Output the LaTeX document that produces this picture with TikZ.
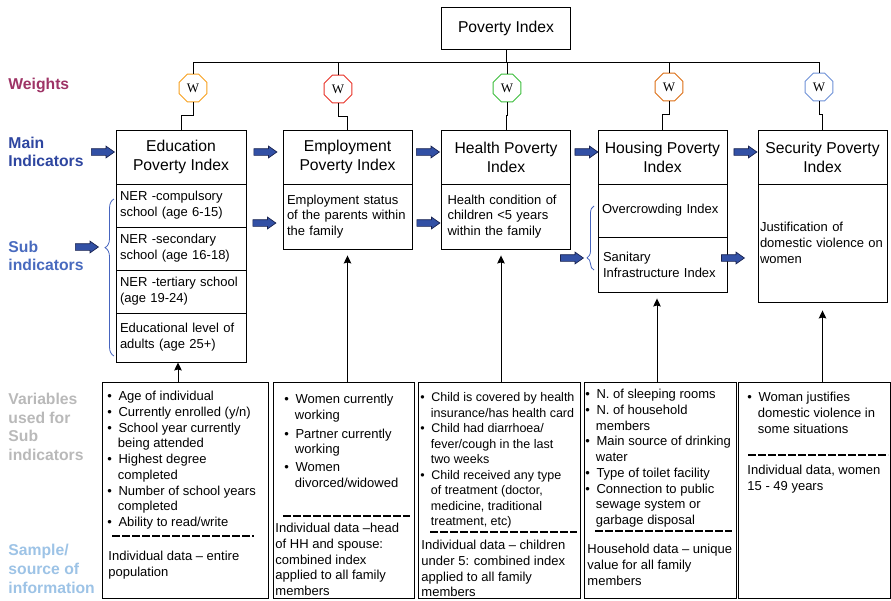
\documentclass[tikz,border=0pt]{standalone}
\usepackage{fontspec}
\setmainfont{Liberation Sans}
\newfontfamily\wfont{Liberation Serif}
\usetikzlibrary{arrows.meta, shapes.geometric, shapes.arrows, positioning}
\usetikzlibrary{decorations.pathreplacing}
\tikzset{>={Stealth[length=8pt, width=7.5pt, inset=1pt]}}
\definecolor{wgtc}{RGB}{158,52,102}
\definecolor{mainc}{RGB}{46,70,160}
\definecolor{subc}{RGB}{72,106,190}
\definecolor{varc}{RGB}{185,185,185}
\definecolor{srcc}{RGB}{157,195,230}
\definecolor{arrc}{RGB}{50,80,165}
\definecolor{arrdk}{RGB}{25,35,80}
\definecolor{bracec}{RGB}{70,100,190}
\definecolor{worange}{RGB}{247,160,30}
\definecolor{wred}{RGB}{232,50,40}
\definecolor{wgreen}{RGB}{60,190,60}
\definecolor{wdkor}{RGB}{220,110,20}
\definecolor{wblue}{RGB}{110,145,215}
\newcommand{\bt}{\textbullet\hspace{6.5pt}}
\newcommand{\ct}{\hspace*{10.5pt}}
\tikzset{
	idxbox/.style={draw, minimum width=129pt, minimum height=54pt, inner sep=0pt, align=center, font=\fontsize{15.7}{19}\selectfont},
	subbox/.style={draw, minimum width=129pt, text width=121pt, inner xsep=4pt, inner ysep=0pt, align=left, font=\fontsize{13}{15.8}\selectfont},
	varbox/.style={draw, minimum height=216pt, inner sep=0pt},
	lsttxt/.style={anchor=north west, inner sep=0pt, align=left, font=\fontsize{13}{15.7}\selectfont},
	wgt/.style={draw=#1, regular polygon, regular polygon sides=8, minimum size=30pt, inner sep=0pt, fill=white, font=\wfont\fontsize{13}{13}\selectfont},
	blkarr/.style={single arrow, draw=arrdk, fill=arrc, line width=0.7pt, minimum height=23pt, minimum width=0pt, inner xsep=0pt, inner ysep=3pt, single arrow head extend=2.5pt, single arrow tip angle=70},
	lbl/.style={anchor=west, inner sep=0pt, align=left, font=\bfseries\fontsize{15.7}{18.7}\selectfont},
	seprule/.style={line width=1.6pt, dash pattern=on 8pt off 2pt}
}

\begin{document}
\begin{tikzpicture}[x=1pt, y=-1pt, line width=0.9pt]
	\useasboundingbox (0,0) rectangle (891,600);
	\node [lbl, text=wgtc] (lweights) at (8,85) {Weights};
	\node [lbl, text=mainc] (lmain) at (8,152) {Main\\Indicators};
	\node [lbl, text=subc] (lsub) at (8,256) {Sub\\indicators};
	\node [lbl, text=varc] (lvar) at (8,427) {Variables\\used for\\Sub\\indicators};
	\node [lbl, text=srcc] (lsrc) at (8,569) {Sample/\\source of\\information};

	\node [draw, minimum width=129pt, minimum height=42pt, font=\fontsize{15.7}{19}\selectfont] (pov) at (506,28) {Poverty Index};

	\node [idxbox, minimum width=130pt] (edu) at (181,157) {Education\\Poverty Index};
	\node [idxbox] (emp) at (347.5,157) {Employment\\Poverty Index};
	\node [idxbox] (hea) at (506,157) {Health Poverty\\Index};
	\node [idxbox] (hou) at (662.5,157) {Housing Poverty\\Index};
	\node [idxbox] (sec) at (822.5,157) {Security Poverty\\Index};

	\node [subbox, text width=122pt, minimum height=43pt] (edu1) at (181,205.5) {NER -compulsory\\school (age 6-15)};
	\node [subbox, text width=122pt, minimum height=43pt] (edu2) at (181,248.5) {NER -secondary\\school (age 16-18)};
	\node [subbox, text width=122pt, minimum height=43pt] (edu3) at (181,291.5) {NER -tertiary school\\(age 19-24)};
	\node [subbox, text width=122pt, minimum height=49pt] (edu4) at (181,337.5) {Educational level of\\adults (age 25+)};
	\node [subbox, minimum height=65pt] (emp1) at (347.5,216.5) {Employment status\\of the parents within\\the family};
	\node [subbox, text width=117pt, inner xsep=6pt, minimum height=65pt] (hea1) at (506,216.5) {Health condition of\\children <5 years\\within the family};
	\node [subbox, minimum height=53pt] (hou1) at (662.5,210.5) {Overcrowding Index};
	\node [subbox, text width=119pt, inner xsep=5pt, minimum height=55pt] (hou2) at (662.5,264.5) {Sanitary\\Infrastructure Index};
	\node [subbox, text width=125pt, inner xsep=2pt, minimum height=118pt] (sec1) at (822.5,243) {Justification of\\domestic violence on\\women};

	\node [wgt=worange] (w1) at (193,88) {W};
	\node [wgt=wred] (w2) at (338,89) {W};
	\node [wgt=wgreen] (w3) at (507,88) {W};
	\node [wgt=wdkor] (w4) at (669,87) {W};
	\node [wgt=wblue] (w5) at (819,87) {W};
	\coordinate (busl) at (193,62);
	\coordinate (busr) at (819,62);
	\draw (pov.south) -- (pov.south |- busl);
	\draw (busl) -- (busr);
	\foreach \w/\m in {w1/edu, w2/emp, w3/hea, w4/hou, w5/sec} {
		\draw (\w.north) -- (\w.north |- busl);
		\draw (\w.south) -- ++(0,13) -| (\m.north);
	}

	\node [blkarr] (am1) at (100.5,152) {};
	\node [blkarr] (am2) at (263,152) {};
	\node [blkarr] (am3) at (425.5,152) {};
	\node [blkarr] (am4) at (584,152) {};
	\node [blkarr] (am5) at (743,152) {};
	\node [blkarr] (as1) at (84.5,247) {};
	\node [blkarr] (as2) at (262,223) {};
	\node [blkarr] (as3) at (426,223) {};
	\node [blkarr] (as4) at (569.5,258) {};
	\node [blkarr] (as5) at (730.5,258) {};

	\draw [bracec, line width=0.8pt, decorate, decoration={brace, amplitude=9pt, aspect=0.69}] (114,356) -- (114,199);
	\draw [bracec, line width=0.8pt, decorate, decoration={brace, amplitude=7pt, aspect=0.19}] (594,270) -- (594,206);

	\node [varbox, minimum width=166pt] (varedu) at (185,490) {};
	\node [varbox, minimum width=141pt] (varemp) at (343.5,490) {};
	\node [varbox, minimum width=162pt] (varhea) at (499,490) {};
	\node [varbox, minimum width=152pt] (varhou) at (660,490) {};
	\node [varbox, minimum width=152pt] (varsec) at (814,490) {};

	\draw [->] (varedu.north -| 178,0) -- (edu4.south -| 178,0);
	\draw [->, shorten >=6pt] (varemp.north -| emp1.south) -- (emp1.south);
	\draw [->, shorten >=6pt] (varhea.north -| 501,0) -- (hea1.south -| 501,0);
	\draw [->, shorten >=6pt] (varhou.north -| 657,0) -- (hou2.south -| 657,0);
	\draw [->, shorten >=8pt] (varsec.north -| sec1.south) -- (sec1.south);

	\node [lsttxt] (lstedu) at (107,391) {\bt Age of individual\\\bt Currently enrolled (y/n)\\\bt School year currently\\\ct being attended\\\bt Highest degree\\\ct completed\\\bt Number of school years\\\ct completed\\\bt Ability to read/write};
	\node [lsttxt] (lstemp) at (284,394) {\bt Women currently\\\ct working\\[3pt]\bt Partner currently\\\ct working\\[2pt]\bt Women\\\ct divorced/widowed};
	\node [lsttxt, font=\fontsize{12.5}{15.5}\selectfont] (lsthea) at (420,392) {\bt Child is covered by health\\\ct insurance/has health card\\\bt Child had diarrhoea/\\\ct fever/cough in the last\\\ct two weeks\\\bt Child received any type\\\ct of treatment (doctor,\\\ct medicine, traditional\\\ct treatment, etc)};
	\node [lsttxt] (lsthou) at (585,389) {\bt N. of sleeping rooms\\\bt N. of household\\\ct members\\\bt Main source of drinking\\\ct water\\\bt Type of toilet facility\\\bt Connection to public\\\ct sewage system or\\\ct garbage disposal};
	\node [lsttxt] (lstsec) at (747,392) {\bt Woman justifies\\\ct domestic violence in\\\ct some situations};

	\draw [seprule] (112,536) -- (254,536);
	\draw [seprule] (283,516) -- (410,516);
	\draw [seprule] (430,532) -- (577,532);
	\draw [seprule] (595,531) -- (732,531);
	\draw [seprule] (748,455) -- (888,455);

	\node [lsttxt] (srcedu) at (108,551) {Individual data -- entire\\population};
	\node [lsttxt] (srcemp) at (275,523) {Individual data --head\\of HH and spouse:\\combined index\\applied to all family\\members};
	\node [lsttxt] (srchea) at (421,540) {Individual data -- children\\under 5: combined index\\applied to all family\\members};
	\node [lsttxt] (srchou) at (587,544) {Household data -- unique\\value for all family\\members};
	\node [lsttxt] (srcsec) at (747,465) {Individual data, women\\15 - 49 years};
\end{tikzpicture}
\end{document}
